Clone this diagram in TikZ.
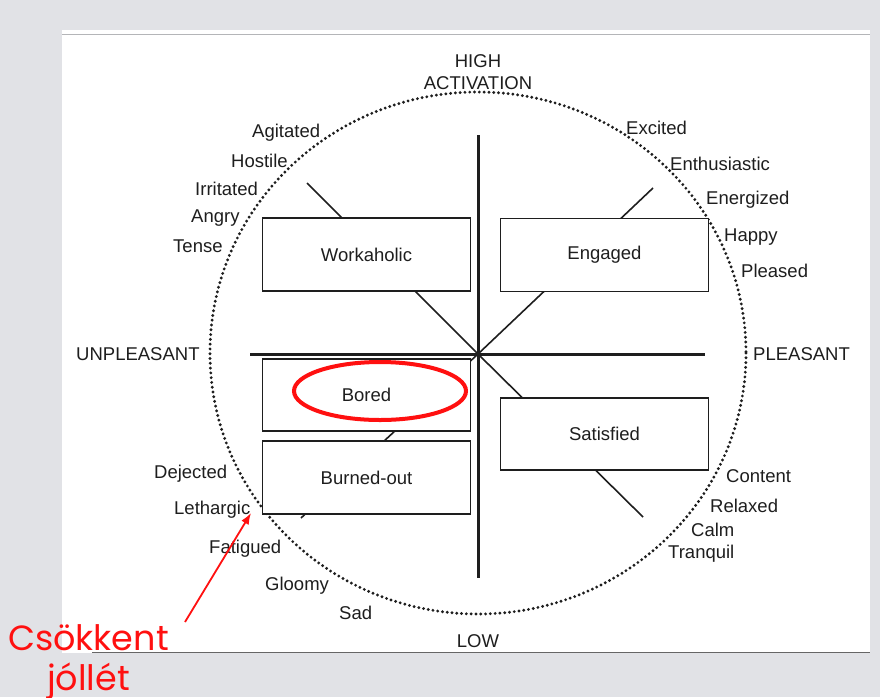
\documentclass[tikz,border=0pt]{standalone}
\usepackage{fontspec}
\setmainfont{Liberation Sans}
\newfontfamily\notefont{Poppins}
\usetikzlibrary{arrows.meta,positioning,shapes.geometric}
\definecolor{PageGray}{HTML}{E1E2E6}
\definecolor{InkDark}{HTML}{1E1E1E}
\definecolor{NoteRed}{HTML}{FF1010}

\begin{document}
\begin{tikzpicture}[x=1pt, y=-1pt,
    mood/.style={font=\fontsize{18.5}{22}\selectfont, text=InkDark, inner sep=0pt, anchor=west},
    pole/.style={font=\fontsize{18.5}{22}\selectfont, text=InkDark, inner sep=0pt},
    quad/.style={draw=InkDark, fill=white, line width=1.3pt, minimum width=208pt,
      minimum height=73pt, inner sep=0pt, font=\fontsize{18.5}{22}\selectfont, text=InkDark},
    axisline/.style={draw=InkDark, line width=3pt},
    spoke/.style={draw=InkDark, line width=1.6pt},
    rim/.style={draw=InkDark, line width=3.2pt, line cap=round, dash pattern=on 0pt off 4.8pt},
    ring/.style={draw=NoteRed, line width=4pt, ellipse, minimum width=172pt, minimum height=58pt},
    note/.style={font=\notefont\fontsize{35}{40}\selectfont, text=NoteRed, inner sep=0pt, anchor=base},
    redarr/.style={-{Latex[length=4mm, width=3mm]}, draw=NoteRed, line width=1.8pt}
  ]
    % page and slide
    \useasboundingbox (0,0) rectangle (880,697);
    \fill[PageGray] (0,0) rectangle (880,697);
    \fill[white] (62,30) rectangle (870,653);
    \draw[PageGray!80!black, line width=0.8pt] (62,34) -- (870,34);
    \draw[black!60, line width=1.2pt] (92,652.5) -- (870,652.5);

    % dotted circle
    \draw[rim] (478,353) ellipse [x radius=268, y radius=261];

    % centre and spoke ends
    \coordinate (hub) at (478,354);
    \coordinate (nw) at (307,183);
    \coordinate (ne) at (653,188);
    \coordinate (se) at (643,517);
    \coordinate (sw) at (301,518);
    \draw[spoke] (hub) -- (nw);
    \draw[spoke] (hub) -- (ne);
    \draw[spoke] (hub) -- (se);
    \draw[spoke] (hub) -- (sw);

    % axes
    \coordinate (top) at (478,135);
    \coordinate (bottom) at (478,578);
    \coordinate (left) at (250,354);
    \coordinate (right) at (705,354);
    \draw[axisline] (top) -- (bottom);
    \draw[axisline] (left) -- (right);

    % quadrant boxes
    \node[quad] (workaholic) at (366.5,254.5) {Workaholic};
    \node[quad] (engaged) at (604.5,255) {Engaged};
    \node[quad, minimum height=72pt] (bored) at (366.5,395) {Bored};
    \node[quad] (burnedout) at (366.5,477.5) {Burned-out};
    \node[quad, minimum height=72pt] (satisfied) at (604.5,434) {Satisfied};
    \node[ring] (boredring) at (380,391) {};

    % axis labels
    \node[pole] (high) at (478,61) {HIGH};
    \node[pole] (activation) at (478,83) {ACTIVATION};
    \node[pole] (low) at (478,641) {LOW};
    \node[pole, anchor=west] (unpleasant) at (76,354) {UNPLEASANT};
    \node[pole, anchor=west] (pleasant) at (753,354) {PLEASANT};

    % feelings round the rim
    \node[mood] (agitated) at (252,133) {Agitated};
    \node[mood] (hostile) at (231,161) {Hostile};
    \node[mood] (irritated) at (195,189) {Irritated};
    \node[mood] (angry) at (191,218) {Angry};
    \node[mood] (tense) at (173,246) {Tense};
    \node[mood] (excited) at (626,128) {Excited};
    \node[mood] (enthusiastic) at (670,164) {Enthusiastic};
    \node[mood] (energized) at (706,200) {Energized};
    \node[mood] (happy) at (724,237) {Happy};
    \node[mood] (pleased) at (741,271) {Pleased};
    \node[mood] (dejected) at (154,474) {Dejected};
    \node[mood] (lethargic) at (174,510) {Lethargic};
    \node[mood] (fatigued) at (209,549) {Fatigued};
    \node[mood] (gloomy) at (265,586) {Gloomy};
    \node[mood] (sad) at (339,613) {Sad};
    \node[mood] (content) at (726,476) {Content};
    \node[mood] (relaxed) at (710,506) {Relaxed};
    \node[mood] (calm) at (691,530) {Calm};
    \node[mood] (tranquil) at (668,554) {Tranquil};

    % red note
    \node[note] (csokkent) at (88.5,650) {Csökkent};
    \node[note] (jollet) at (88.5,690) {jóllét};
    \coordinate (tail) at (185,622);
    \coordinate (tip) at (251,513);
    \draw[redarr] (tail) -- (tip);
  \end{tikzpicture}
\end{document}
